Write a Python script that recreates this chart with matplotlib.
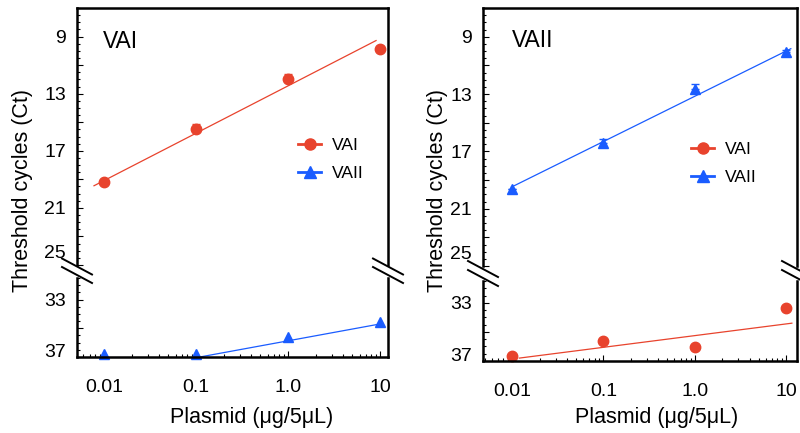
import matplotlib
matplotlib.use('Agg')
import matplotlib.pyplot as plt
from matplotlib.lines import Line2D
from matplotlib.transforms import ScaledTranslation

plt.rcParams['font.family'] = ['Liberation Sans', 'DejaVu Sans']

# x values and tick labels
plasmid = [0.01, 0.1, 1.0, 10]
xtick_labels = ['0.01', '0.1', '1.0', '10']

# y ticks (inverted broken axis: 7-25 on top, 31.5-37 at the bottom)
upper_ticks = [9, 11, 13, 15, 17, 19, 21, 23, 25]
upper_labels = ['9', '', '13', '', '17', '', '21', '', '25']
lower_ticks = [33, 35, 37]
lower_labels = ['33', '', '37']

# left panel (VAI primers)
vai_left = [19.2, 15.5, 12.0, 9.85]
vai_left_err = [0.0, 0.4, 0.35, 0.2]
vai_left_fit_x = [0.0078, 9.05]
vai_left_fit_y = [19.45, 9.28]
vaii_left = [36.8, 36.8, 35.6, 34.55]
vaii_left_fit_x = [0.11, 10]
vaii_left_fit_y = [37.0, 34.7]

# right panel (VAII primers)
vaii_right = [19.6, 16.45, 12.65, 10.1]
vaii_right_err = [0.0, 0.3, 0.35, 0.2]
vaii_right_fit_x = [0.0098, 11.3]
vaii_right_fit_y = [19.5, 9.84]
vai_right = [36.65, 35.6, 36.05, 33.33]
vai_right_fit_x = [0.012, 11.6]
vai_right_fit_y = [36.8, 34.4]

RED = '#e8432d'
BLUE = '#1a5cff'
W, H = 800, 433

fig = plt.figure(figsize=(8, 4.33), dpi=100)


def rect(x0, x1, ytop, ybot):
    return [x0 / W, 1 - ybot / H, (x1 - x0) / W, (ybot - ytop) / H]


def style(ax, lower):
    for s in ax.spines.values():
        s.set_linewidth(1.8)
    ax.tick_params(axis='y', which='both', direction='in', right=False,
                   labelsize=14, pad=8)
    ax.tick_params(axis='y', which='major', length=4.5, width=0.8)
    ax.tick_params(axis='y', which='minor', length=2.5, width=0.8)
    if lower:
        ax.spines['top'].set_visible(False)
        ax.tick_params(axis='x', which='both', direction='in', top=False,
                       labelsize=14, pad=16)
        ax.tick_params(axis='x', which='major', length=4.5, width=0.8)
        ax.tick_params(axis='x', which='minor', length=2.5, width=0.8)
        ax.set_xticks(plasmid)
        ax.set_xticklabels(xtick_labels)
    else:
        ax.spines['bottom'].set_visible(False)
        ax.tick_params(axis='x', which='both', bottom=False, top=False,
                       labelbottom=False)


def shift_label(ax, idx, dy):
    lab = ax.get_yticklabels()[idx]
    lab.set_transform(lab.get_transform() +
                      ScaledTranslation(0, dy / 72, fig.dpi_scale_trans))


def panel(xr, up_box, low_box, xlim, title, up_y, up_err, up_fit, up_col, up_m,
          low_y, low_fit, low_col, low_m, leg_xy, title_xy):
    top = fig.add_axes(rect(xr[0], xr[1], *up_box))
    bot = fig.add_axes(rect(xr[0], xr[1], *low_box))
    for ax in (top, bot):
        ax.set_xscale('log')
        ax.set_xlim(*xlim)
    top.set_ylim(25, 7)
    bot.set_ylim(37, 31.5)
    top.set_yticks(upper_ticks)
    top.set_yticklabels(upper_labels)
    top.set_yticks([t / 2 for t in range(14, 51)], minor=True)
    bot.set_yticks(lower_ticks)
    bot.set_yticklabels(lower_labels)
    bot.set_yticks([t / 2 for t in range(63, 75)], minor=True)
    style(top, False)
    style(bot, True)
    shift_label(top, 8, 10)
    shift_label(bot, 2, 5)

    top.plot(up_fit[0], up_fit[1], color=up_col, lw=0.9)
    top.errorbar(plasmid, up_y, yerr=[up_err, [0] * len(up_err)], fmt=up_m,
                 color=up_col, ms=7.5, capsize=3, elinewidth=1, capthick=1,
                 clip_on=False)
    bot.plot(low_fit[0], low_fit[1], color=low_col, lw=0.9)
    bot.plot(plasmid, low_y, low_m, color=low_col, ms=7.5, ls='none',
             clip_on=False)
    top.text(title_xy[0], title_xy[1], title, transform=top.transAxes,
             fontsize=16.5, va='center', ha='left')

    handles = [Line2D([], [], color=RED, marker='o', lw=2, ms=8),
               Line2D([], [], color=BLUE, marker='^', lw=2, ms=8)]
    fig.legend(handles, ['VAI', 'VAII'], loc='upper left',
               bbox_to_anchor=(leg_xy[0] / W, 1 - leg_xy[1] / H),
               frameon=False, fontsize=12.5, handlelength=1.35,
               handletextpad=0.6, labelspacing=0.75, borderpad=0,
               borderaxespad=0)
    return top, bot


panel((77, 388), (8, 265), (278, 357), (0.0051, 12.2), 'VAI',
      vai_left, vai_left_err, (vai_left_fit_x, vai_left_fit_y), RED, 'o',
      vaii_left, (vaii_left_fit_x, vaii_left_fit_y), BLUE, '^',
      (298, 138), (0.083, 0.868))
panel((483, 797), (8, 266), (281, 361), (0.0048, 13.2), 'VAII',
      vaii_right, vaii_right_err, (vaii_right_fit_x, vaii_right_fit_y), BLUE, '^',
      vai_right, (vai_right_fit_x, vai_right_fit_y), RED, 'o',
      (691, 142), (0.092, 0.875))


# break marks on the spines
def brk(xc, yc, dx=15, dy=8):
    fig.add_artist(Line2D([(xc - dx) / W, (xc + dx) / W],
                          [1 - (yc - dy) / H, 1 - (yc + dy) / H],
                          transform=fig.transFigure, color='black', lw=1.4))


for xc, y1, y2 in [(77, 266.5, 275), (388, 266.5, 275),
                   (483, 269, 278), (797, 269, 278)]:
    brk(xc, y1)
    brk(xc, y2)

# axis titles
for xc, yc in [(23, 191), (438, 191)]:
    fig.text(xc / W, 1 - yc / H, 'Threshold cycles (Ct)', rotation=90,
             fontsize=15.5, ha='center', va='center')
for xc, yc in [(252, 417), (657, 418)]:
    fig.text(xc / W, 1 - yc / H, 'Plasmid (\u03bcg/5\u03bcL)', fontsize=15.5,
             ha='center', va='center')

fig.savefig('out.png', dpi=100)
